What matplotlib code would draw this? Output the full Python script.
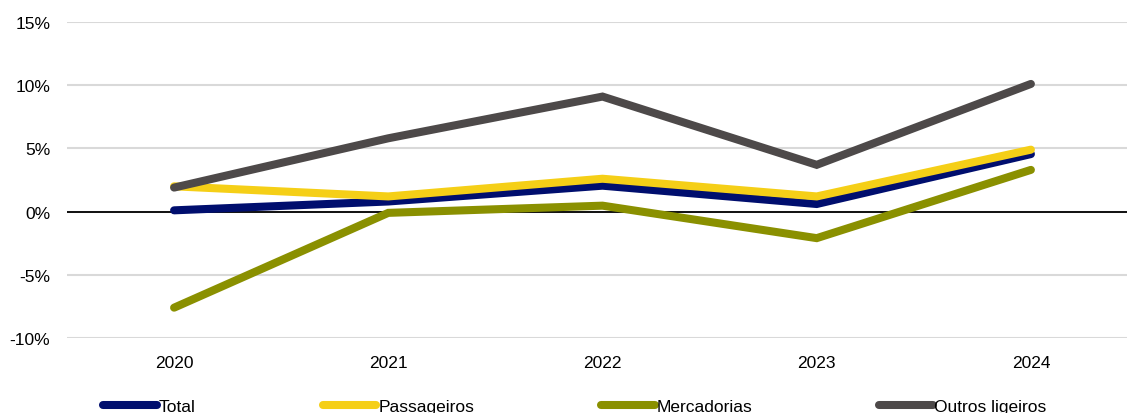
import matplotlib.pyplot as plt
import matplotlib.ticker as mticker

years = ["2020", "2021", "2022", "2023", "2024"]
total = [0.1, 0.8, 2.05, 0.6, 4.55]
passageiros = [2.0, 1.2, 2.6, 1.2, 4.9]
mercadorias = [-7.6, -0.1, 0.47, -2.1, 3.3]
outros = [1.9, 5.8, 9.1, 3.7, 10.1]

series = [
    ("Total", total, "#000E6E"),
    ("Passageiros", passageiros, "#F5CF17"),
    ("Mercadorias", mercadorias, "#8A9000"),
    ("Outros ligeiros", outros, "#4D4949"),
]

plt.rcParams['font.family'] = ['Liberation Sans', 'DejaVu Sans']

W, H = 1127, 414
fig = plt.figure(figsize=(W / 100, H / 100), dpi=100)
ax = fig.add_axes([67 / W, 75 / H, (1138 - 67) / W, 316 / H])

x = range(len(years))
for i, (name, vals, col) in enumerate(series):
    ax.plot(x, vals, color=col, lw=5.8, solid_capstyle='round',
            solid_joinstyle='miter', label=name, zorder=3 + i)

ax.set_xlim(-0.5, len(years) - 0.5)
ax.set_ylim(-10, 15)
ax.set_yticks(range(-10, 16, 5))
ax.yaxis.set_major_formatter(mticker.FuncFormatter(lambda v, p: f"{v:.0f}%"))
ax.set_xticks(list(x))
ax.set_xticklabels(years)
ax.grid(axis='y', color='#D9D9D9', lw=1.5, zorder=0)
ax.axhline(0, color='black', lw=1.3, zorder=2)
for s in ax.spines.values():
    s.set_visible(False)
ax.tick_params(length=0, labelsize=12.5, colors='black')
ax.tick_params(axis='y', pad=12)
ax.tick_params(axis='x', pad=12)

leg = fig.legend(loc='center', bbox_to_anchor=(575 / W, 7 / H), ncol=4,
                 frameon=False, handlelength=3.1, handletextpad=0.1,
                 columnspacing=7.3,
                 prop={'family': ['Liberation Sans Narrow', 'Liberation Sans'], 'size': 12.5})

fig.savefig("out.png", dpi=100)
